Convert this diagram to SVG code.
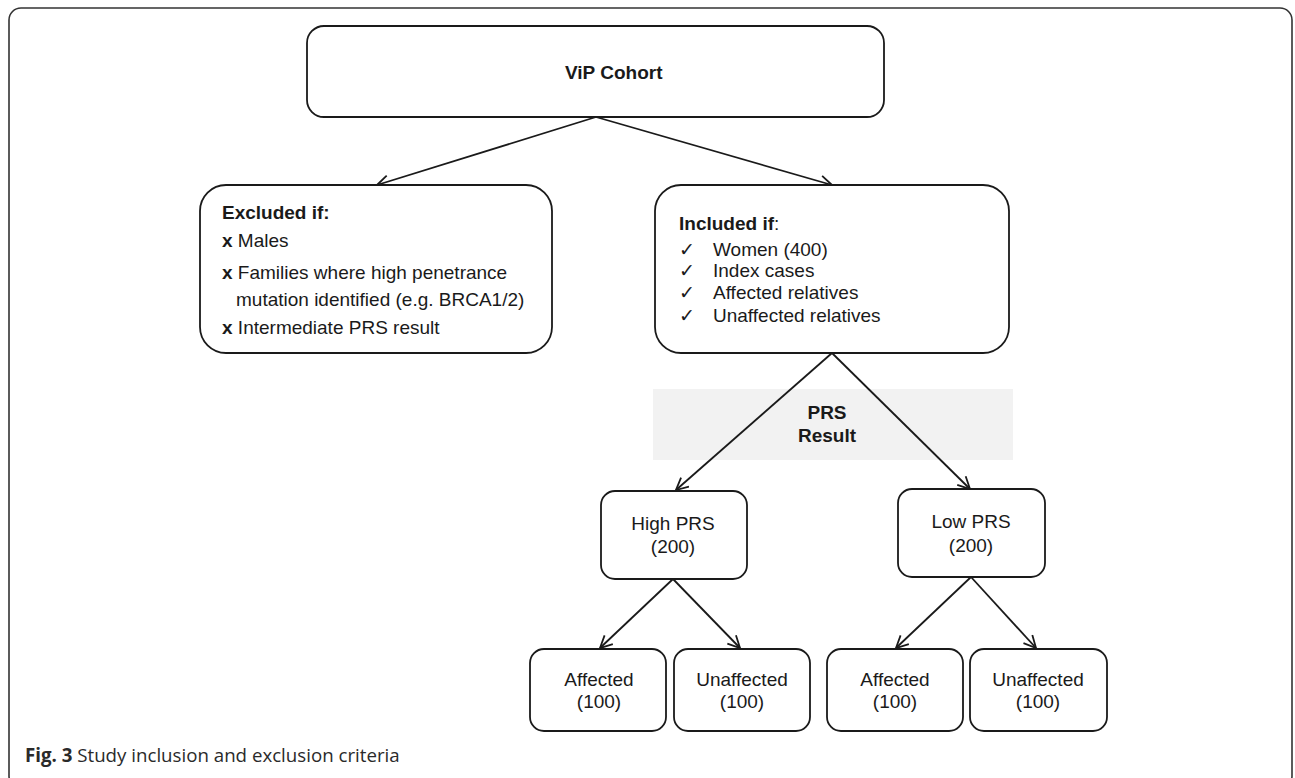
<svg xmlns="http://www.w3.org/2000/svg" width="1295" height="778" viewBox="0 0 1295 778">
<defs>
<style>
.box{fill:#fff;stroke:#1a1a1a;stroke-width:1.8}
.t{font-family:"Liberation Sans",Arial,sans-serif;font-size:19px;fill:#1a1a1a}
.b{font-weight:bold}
.c{text-anchor:middle}
.con{stroke:#1a1a1a;stroke-width:1.8;fill:none}
.cap{font-family:"Open Sans","Liberation Sans",sans-serif;font-size:18.7px;fill:#2a2a2a}
</style>
<marker id="arr" viewBox="0 0 14 14" refX="13" refY="7" markerWidth="14" markerHeight="14" markerUnits="userSpaceOnUse" orient="auto">
<path d="M1,1 L13,7 L1,13" fill="none" stroke="#1a1a1a" stroke-width="1.8"/>
</marker>
</defs>
<rect width="1295" height="778" fill="#fff"/>
<rect id="frame" x="9" y="8" width="1283" height="780" rx="12" fill="none" stroke="#333" stroke-width="1.6"/>
<rect id="prs-band" x="653" y="389" width="360" height="71" fill="#f2f2f2"/>
<g id="connectors">
<line class="con" x1="596" y1="117" x2="377" y2="185" marker-end="url(#arr)"/>
<line class="con" x1="596" y1="117" x2="832" y2="185" marker-end="url(#arr)"/>
<line class="con" x1="832" y1="353" x2="676" y2="490" marker-end="url(#arr)"/>
<line class="con" x1="832" y1="353" x2="970" y2="489" marker-end="url(#arr)"/>
<line class="con" x1="673" y1="579" x2="600" y2="648" marker-end="url(#arr)"/>
<line class="con" x1="673" y1="579" x2="740" y2="648" marker-end="url(#arr)"/>
<line class="con" x1="971" y1="577" x2="896" y2="648" marker-end="url(#arr)"/>
<line class="con" x1="971" y1="577" x2="1036" y2="648" marker-end="url(#arr)"/>
</g>
<g id="prs-label">
<text class="t b c" x="827" y="419">PRS</text>
<text class="t b c" x="827" y="442">Result</text>
</g>
<g id="vip">
<rect class="box" x="307" y="26" width="577" height="91" rx="17"/>
<text class="t b" x="565" y="79">ViP Cohort</text>
</g>
<g id="excluded">
<rect class="box" x="200" y="185" width="352" height="168" rx="26"/>
<text class="t b" x="222" y="219">Excluded if:</text>
<text class="t" x="222" y="247"><tspan class="b">x</tspan> Males</text>
<text class="t" x="222" y="279"><tspan class="b">x</tspan> Families where high penetrance</text>
<text class="t" x="236" y="306">mutation identified (e.g. BRCA1/2)</text>
<text class="t" x="222" y="334"><tspan class="b">x</tspan> Intermediate PRS result</text>
</g>
<g id="included">
<rect class="box" x="655" y="185" width="354" height="168" rx="26"/>
<text class="t" x="679" y="230"><tspan class="b">Included if</tspan>:</text>
<g font-family="DejaVu Sans,sans-serif" font-size="19" fill="#1a1a1a">
<text x="679" y="256">✓</text>
<text x="679" y="277">✓</text>
<text x="679" y="299">✓</text>
<text x="679" y="322">✓</text>
</g>
<text class="t" x="713" y="256">Women (400)</text>
<text class="t" x="713" y="277">Index cases</text>
<text class="t" x="713" y="299">Affected relatives</text>
<text class="t" x="713" y="322">Unaffected relatives</text>
</g>
<g id="high-prs">
<rect class="box" x="601" y="491" width="146" height="88" rx="14"/>
<text class="t c" x="673" y="530">High PRS</text>
<text class="t c" x="673" y="553">(200)</text>
</g>
<g id="low-prs">
<rect class="box" x="898" y="489" width="147" height="88" rx="14"/>
<text class="t c" x="971" y="528">Low PRS</text>
<text class="t c" x="971" y="552">(200)</text>
</g>
<g id="high-affected">
<rect class="box" x="530" y="649" width="136" height="82" rx="14"/>
<text class="t c" x="599" y="686">Affected</text>
<text class="t c" x="599" y="708">(100)</text>
</g>
<g id="high-unaffected">
<rect class="box" x="674" y="649" width="136" height="82" rx="14"/>
<text class="t c" x="742" y="686">Unaffected</text>
<text class="t c" x="742" y="708">(100)</text>
</g>
<g id="low-affected">
<rect class="box" x="827" y="649" width="136" height="82" rx="14"/>
<text class="t c" x="895" y="686">Affected</text>
<text class="t c" x="895" y="708">(100)</text>
</g>
<g id="low-unaffected">
<rect class="box" x="970" y="649" width="137" height="82" rx="14"/>
<text class="t c" x="1038" y="686">Unaffected</text>
<text class="t c" x="1038" y="708">(100)</text>
</g>
<g id="caption">
<text class="cap" x="25" y="762"><tspan font-weight="bold">Fig. 3</tspan> Study inclusion and exclusion criteria</text>
</g>
</svg>
